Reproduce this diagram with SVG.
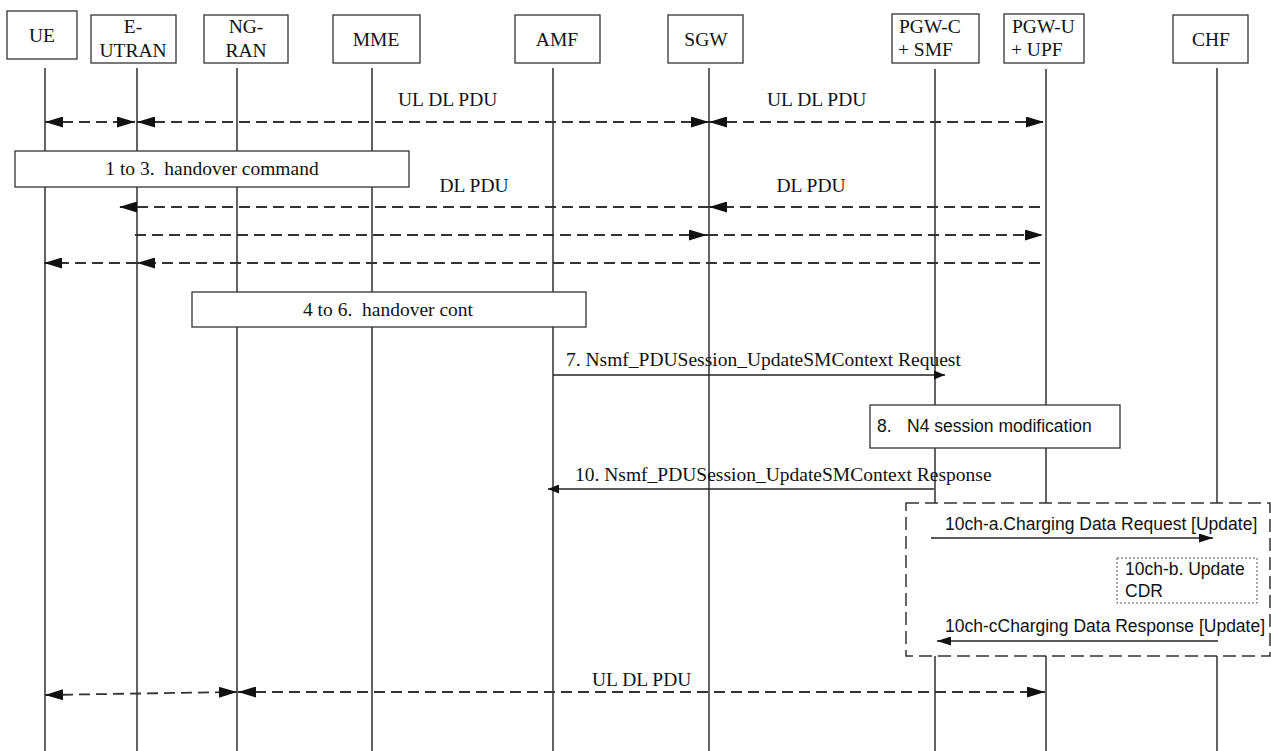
<svg xmlns="http://www.w3.org/2000/svg" width="1271" height="751" viewBox="0 0 1271 751">
  <style>
    .bg { fill: #ffffff; }
    .box { fill: #ffffff; stroke: #333333; stroke-width: 1.3; }
    .life { stroke: #222222; stroke-width: 1.4; fill: none; }
    .t { font-family: "Liberation Serif", "Times New Roman", serif; font-size: 19.5px; fill: #111111; }
    .s { font-family: "Liberation Sans", Arial, sans-serif; font-size: 17.5px; fill: #111111; }
    .mid { text-anchor: middle; }
    .dash { stroke: #333333; stroke-width: 1.8; stroke-dasharray: 11 6; fill: none; }
    .solid { stroke: #222222; stroke-width: 1.4; fill: none; }
    .frame { fill: #ffffff; stroke: #333333; stroke-width: 1.5; stroke-dasharray: 13 6; }
    .dotbox { fill: #ffffff; stroke: #555555; stroke-width: 1; stroke-dasharray: 2 2; }
  </style>
  <defs>
    <marker id="hd" viewBox="0 0 18 11" refX="18" refY="5.5" markerWidth="18" markerHeight="11" markerUnits="userSpaceOnUse" orient="auto-start-reverse">
      <path d="M0,0 L18,5.5 L0,11 z" fill="#111111"/>
    </marker>
    <marker id="hs" viewBox="0 0 11 9" refX="11" refY="4.5" markerWidth="11" markerHeight="9" markerUnits="userSpaceOnUse" orient="auto-start-reverse">
      <path d="M0,0 L11,4.5 L0,9 z" fill="#111111"/>
    </marker>
    <marker id="hc" viewBox="0 0 14 9" refX="14" refY="4.5" markerWidth="14" markerHeight="9" markerUnits="userSpaceOnUse" orient="auto-start-reverse">
      <path d="M0,0 L14,4.5 L0,9 z" fill="#111111"/>
    </marker>
  </defs>

  <rect class="bg" x="0" y="0" width="1271" height="751"/>

  <!-- participants: header box, name and lifeline -->
  <g id="ue">
    <line class="life" x1="45" y1="68" x2="45" y2="751"/>
    <rect class="box" x="7" y="11" width="70" height="48"/>
    <text class="t mid" x="42" y="42">UE</text>
  </g>
  <g id="e-utran">
    <line class="life" x1="137" y1="68" x2="137" y2="751"/>
    <rect class="box" x="91" y="15" width="85" height="48"/>
    <text class="t mid" x="133" y="33">E-</text>
    <text class="t mid" x="133" y="57">UTRAN</text>
  </g>
  <g id="ng-ran">
    <line class="life" x1="237" y1="68" x2="237" y2="751"/>
    <rect class="box" x="204" y="15" width="84" height="48"/>
    <text class="t mid" x="246" y="33">NG-</text>
    <text class="t mid" x="246" y="57">RAN</text>
  </g>
  <g id="mme">
    <line class="life" x1="372" y1="68" x2="372" y2="751"/>
    <rect class="box" x="333" y="15" width="87" height="48"/>
    <text class="t mid" x="376" y="46">MME</text>
  </g>
  <g id="amf">
    <line class="life" x1="553" y1="68" x2="553" y2="751"/>
    <rect class="box" x="515" y="15" width="85" height="48"/>
    <text class="t mid" x="557" y="46">AMF</text>
  </g>
  <g id="sgw">
    <line class="life" x1="709" y1="68" x2="709" y2="751"/>
    <rect class="box" x="668" y="15" width="75" height="48"/>
    <text class="t mid" x="706" y="46">SGW</text>
  </g>
  <g id="pgw-c-smf">
    <line class="life" x1="935" y1="69" x2="935" y2="751"/>
    <rect class="box" x="892" y="14" width="87" height="49"/>
    <text class="t" x="899" y="33">PGW-C</text>
    <text class="t" x="898" y="56">+ SMF</text>
  </g>
  <g id="pgw-u-upf">
    <line class="life" x1="1046" y1="69" x2="1046" y2="751"/>
    <rect class="box" x="1004" y="14" width="80" height="49"/>
    <text class="t" x="1012" y="33">PGW-U</text>
    <text class="t" x="1011" y="56">+ UPF</text>
  </g>
  <g id="chf">
    <line class="life" x1="1217" y1="68" x2="1217" y2="751"/>
    <rect class="box" x="1173" y="15" width="75" height="48"/>
    <text class="t mid" x="1211" y="46">CHF</text>
  </g>

  <!-- procedure steps spanning several lifelines -->
  <g id="step-1-3">
    <rect class="box" x="15" y="151" width="394" height="36"/>
    <text class="t mid" x="212" y="175" xml:space="preserve">1 to 3.  handover command</text>
  </g>
  <g id="step-4-6">
    <rect class="box" x="192" y="292" width="394" height="35"/>
    <text class="t mid" x="388" y="316" xml:space="preserve">4 to 6.  handover cont</text>
  </g>
  <g id="step-8">
    <rect class="box" x="870" y="405" width="250" height="43"/>
    <text class="s" y="432"><tspan x="877">8.</tspan><tspan x="907">N4 session modification</tspan></text>
  </g>
  <g id="charging-frame">
    <rect class="frame" x="906" y="503" width="364" height="153"/>
  </g>
  <g id="step-10ch-b">
    <rect class="dotbox" x="1117" y="558" width="140" height="45"/>
    <text class="s" x="1125" y="575">10ch-b. Update</text>
    <text class="s" x="1125" y="597">CDR</text>
  </g>

  <!-- messages -->
  <g id="connectors">
    <!-- user plane before handover -->
    <line class="dash" x1="45" y1="122" x2="135" y2="122" marker-start="url(#hd)" marker-end="url(#hd)"/>
    <line class="dash" x1="137" y1="122" x2="709" y2="122" marker-start="url(#hd)" marker-end="url(#hd)"/>
    <line class="dash" x1="709" y1="122" x2="1044" y2="122" marker-start="url(#hd)" marker-end="url(#hd)"/>
    <text class="t" x="398" y="106">UL DL PDU</text>
    <text class="t" x="767" y="106">UL DL PDU</text>

    <!-- downlink forwarding -->
    <text class="t mid" x="474" y="192">DL PDU</text>
    <text class="t mid" x="811" y="192">DL PDU</text>
    <line class="dash" x1="1040" y1="207" x2="709" y2="207" marker-end="url(#hd)"/>
    <line class="dash" x1="709" y1="207" x2="119" y2="207" marker-end="url(#hd)"/>

    <line class="dash" x1="135" y1="235" x2="707" y2="235" marker-end="url(#hd)"/>
    <line class="dash" x1="707" y1="235" x2="1043" y2="235" marker-end="url(#hd)"/>

    <line class="dash" x1="1040" y1="263" x2="137" y2="263" marker-end="url(#hd)"/>
    <line class="dash" x1="137" y1="263" x2="44" y2="263" marker-end="url(#hd)"/>

    <!-- step 7 -->
    <text class="t" x="566" y="366">7. Nsmf_PDUSession_UpdateSMContext Request</text>
    <line class="solid" x1="553" y1="375" x2="945" y2="375" marker-end="url(#hs)"/>

    <!-- step 10 -->
    <text class="t" x="575" y="481">10. Nsmf_PDUSession_UpdateSMContext Response</text>
    <line class="solid" x1="934" y1="489" x2="548" y2="489" marker-end="url(#hs)"/>

    <!-- charging -->
    <text class="s" x="945" y="530">10ch-a.Charging Data Request [Update]</text>
    <line class="solid" x1="931" y1="538" x2="1213" y2="538" marker-end="url(#hc)"/>
    <text class="s" x="945" y="632">10ch-cCharging Data Response [Update]</text>
    <line class="solid" x1="1218" y1="641" x2="937" y2="641" marker-end="url(#hc)"/>

    <!-- user plane after handover -->
    <text class="t" x="592" y="686">UL DL PDU</text>
    <line class="dash" x1="45" y1="695" x2="237" y2="692" marker-start="url(#hd)" marker-end="url(#hd)"/>
    <line class="dash" x1="238" y1="692" x2="1045" y2="692" marker-start="url(#hd)" marker-end="url(#hd)"/>
  </g>
</svg>
